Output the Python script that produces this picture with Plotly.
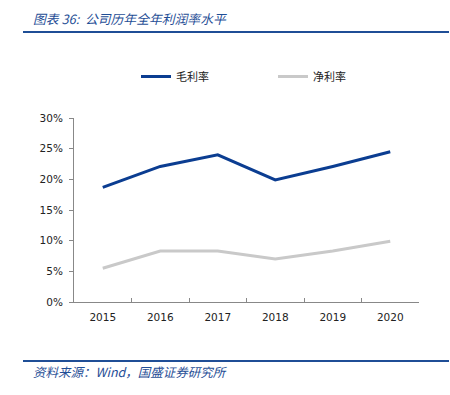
import plotly.graph_objects as go

years = ["2015", "2016", "2017", "2018", "2019", "2020"]
gross_margin = [0.187, 0.221, 0.240, 0.199, 0.221, 0.245]
net_margin = [0.055, 0.083, 0.083, 0.070, 0.083, 0.099]
y_ticks = [0, 0.05, 0.10, 0.15, 0.20, 0.25, 0.30]
y_tick_labels = ["0%", "5%", "10%", "15%", "20%", "25%", "30%"]

W, H = 450, 395
L, R, T, B = 74, 419, 118, 302

def px(x):
    return (x - L) / (R - L)

def py(y):
    return (B - y) / (B - T)

fig = go.Figure()
fig.add_trace(go.Scatter(x=years, y=gross_margin, mode="lines", name="毛利率",
                         line=dict(color="#0B3D91", width=3)))
fig.add_trace(go.Scatter(x=years, y=net_margin, mode="lines", name="净利率",
                         line=dict(color="#C9C9C9", width=3)))

blue = "#1F4E96"
tickfont = dict(family="DejaVu Sans, Verdana", size=10.5, color="#222222")
fig.update_layout(
    width=W, height=H,
    margin=dict(l=L, r=W - R, t=T, b=H - B, pad=0, autoexpand=False),
    paper_bgcolor="white", plot_bgcolor="white",
    font=dict(family="Noto Sans CJK SC, DejaVu Sans", size=11, color="#222222"),
    showlegend=True,
    legend=dict(orientation="h", xref="paper", yref="paper",
                x=px(136), y=py(62), xanchor="left", yanchor="top",
                entrywidth=92, entrywidthmode="pixels",
                font=dict(size=11, color="#222222")),
    xaxis=dict(type="category", range=[-0.5, 5.5], tickson="boundaries",
               ticks="inside", ticklen=4, automargin=False, ticklabelstandoff=5,
               tickcolor="#888888", showline=True, linecolor="#888888", linewidth=1,
               showgrid=False, zeroline=False, tickfont=tickfont),
    yaxis=dict(range=[0, 0.30], tickvals=y_ticks, ticktext=y_tick_labels,
               ticks="outside", ticklen=4, tickcolor="#888888", automargin=False,
               ticklabelstandoff=4,
               showline=True, linecolor="#888888", linewidth=1,
               showgrid=False, zeroline=False, tickfont=tickfont),
    shapes=[
        dict(type="line", xref="paper", yref="paper", x0=px(23), x1=px(449),
             y0=py(32), y1=py(32), line=dict(color=blue, width=2)),
        dict(type="line", xref="paper", yref="paper", x0=px(23), x1=px(449),
             y0=py(361), y1=py(361), line=dict(color=blue, width=2)),
    ],
    annotations=[
        dict(xref="paper", yref="paper", x=px(31), y=py(18), xanchor="left", yanchor="middle",
             text="<i>图表 36:  公司历年全年利润率水平</i>", showarrow=False,
             font=dict(size=12.8, color=blue, family="Noto Sans CJK SC")),
        dict(xref="paper", yref="paper", x=px(31), y=py(371), xanchor="left", yanchor="middle",
             text="<i>资料来源：Wind，国盛证券研究所</i>", showarrow=False,
             font=dict(size=12.5, color=blue, family="Noto Sans CJK SC")),
    ],
)

fig.write_html("out.html", config={"displayModeBar": False},
               post_script="document.body.style.margin='0';")
